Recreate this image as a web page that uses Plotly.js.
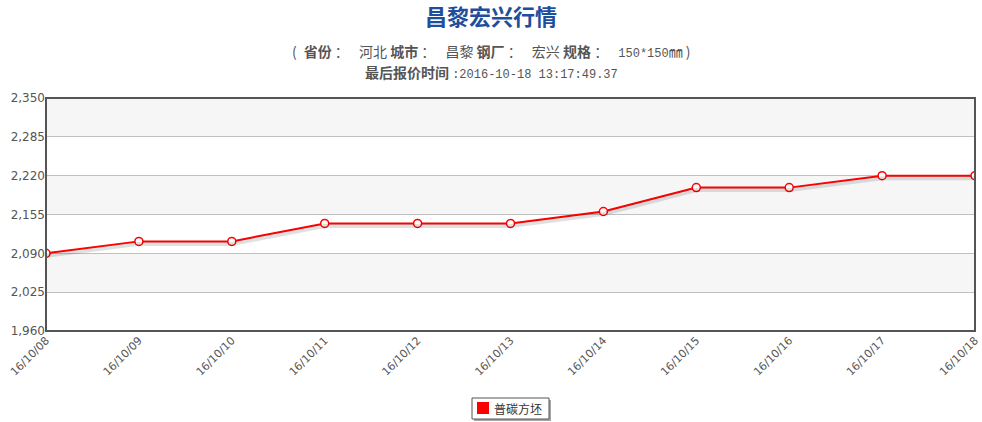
<!DOCTYPE html>
<html><head><meta charset="utf-8">
<script src="https://cdn.plot.ly/plotly-3.0.1.min.js"></script>
<style>body{margin:0;background:#fff}#c{width:982px;height:422px}</style>
</head><body><div id="c"></div>
<script>
const dates = ["16/10/08","16/10/09","16/10/10","16/10/11","16/10/12","16/10/13","16/10/14","16/10/15","16/10/16","16/10/17","16/10/18"];
const prices = [2090, 2110, 2110, 2140, 2140, 2140, 2160, 2200, 2200, 2220, 2220];
const seriesName = "普碳方坯";
const yTicks = [1960, 2025, 2090, 2155, 2220, 2285, 2350];
const titleText = "昌黎宏兴行情";
const mono = "font-family:'Liberation Mono',monospace;font-size:12px";
const subLine1 = "(&#8194;<b>省份</b> ：&#8194; 河北 <b>城市</b> ：&#8194; 昌黎 <b>钢厂</b> ：&#8194; 宏兴 <b>规格</b> ：&#8194; <span style=\"" + mono + "\">150*150</span>㎜ )";
const subLine2 = "<b>最后报价时间</b> <span style=\"" + mono + "\">:2016-10-18 13:17:49.37</span>";

const cjk = "'Noto Sans CJK SC', 'DejaVu Sans', sans-serif";
const W = 982, H = 422, L = 46, R = 7, T = 98, B = 91;
const pw = W - L - R, ph = H - T - B;
const px = v => (v - L) / pw, py = v => (H - B - v) / ph;
const centerShift = W / 2 - (L + pw / 2);

const shapes = [];
for (let i = 0; i < yTicks.length - 1; i++) {
  if (i % 2 === 1) {
    shapes.push({type:'rect', xref:'paper', yref:'y', x0:0, x1:1, y0:yTicks[i], y1:yTicks[i+1],
      fillcolor:'#f6f6f6', line:{width:0}, layer:'below'});
  }
}
shapes.push({type:'rect', xref:'paper', yref:'paper', x0:0, x1:1, y0:0, y1:1,
  line:{color:'#555555', width:2}, fillcolor:'rgba(0,0,0,0)'});
// legend box with shadow
shapes.push({type:'rect', xref:'paper', yref:'paper', x0:px(474), x1:px(551), y0:py(400), y1:py(421),
  line:{width:0}, fillcolor:'rgba(0,0,0,0.35)'});
shapes.push({type:'rect', xref:'paper', yref:'paper', x0:px(472), x1:px(549), y0:py(398), y1:py(419),
  line:{color:'#555555', width:1}, fillcolor:'#ffffff'});
shapes.push({type:'rect', xref:'paper', yref:'paper', x0:px(477), x1:px(489), y0:py(402), y1:py(414),
  line:{width:0}, fillcolor:'#ff0000'});

const yr = [yTicks[0], yTicks[yTicks.length-1]];
const unitPerPx = (yr[1]-yr[0]) / ph;
const traces = [
  {x: dates, y: prices, type:'scatter', mode:'lines', showlegend:false, xaxis:'x', yaxis:'y2',
   line:{color:'rgba(0,0,0,0.12)', width:4}, hoverinfo:'skip'},
  {x: dates, y: prices, type:'scatter', mode:'lines+markers', name: seriesName, showlegend:false,
   line:{color:'#ff0000', width:2},
   marker:{size:8, color:'#ffffff', line:{color:'#ff0000', width:1.5}}}
];

const layout = {
  width:W, height:H,
  margin:{l:L, r:R, t:T, b:B},
  paper_bgcolor:'#ffffff', plot_bgcolor:'#ffffff',
  showlegend:false,
  xaxis:{type:'category', range:[0, dates.length-1], tickangle:-45, showgrid:false, zeroline:false, automargin:false,
    ticks:'', tickfont:{family:"'DejaVu Sans', sans-serif", size:11, color:'#555555'}, showline:false},
  yaxis:{range:yr, tickvals:yTicks, ticktext:yTicks.map(v=>v.toLocaleString('en-US')), automargin:false,
    showgrid:true, gridcolor:'#c0c0c0', gridwidth:1, zeroline:false, ticks:'', showline:false,
    tickfont:{family:"'DejaVu Sans', sans-serif", size:12, color:'#555555'}},
  yaxis2:{overlaying:'y', range:[yr[0]+2.5*unitPerPx, yr[1]+2.5*unitPerPx], visible:false},
  shapes: shapes,
  annotations:[
    {text:'<b>'+titleText+'</b>', xref:'paper', yref:'paper', x:0.5, y:1, xanchor:'center', yanchor:'middle',
     xshift:centerShift, yshift:T-15, showarrow:false, font:{family:cjk, size:22, color:'#1f4e9c'}},
    {text:subLine1, xref:'paper', yref:'paper', x:0.5, y:1, xanchor:'center', yanchor:'middle',
     xshift:centerShift, yshift:T-51, showarrow:false, font:{family:cjk, size:14, color:'#555555'}},
    {text:subLine2, xref:'paper', yref:'paper', x:0.5, y:1, xanchor:'center', yanchor:'middle',
     xshift:centerShift, yshift:T-72, showarrow:false, font:{family:cjk, size:14, color:'#555555'}},
    {text:seriesName, xref:'paper', yref:'paper', x:px(492), y:py(408.5), xanchor:'left', yanchor:'middle',
     showarrow:false, font:{family:cjk, size:12, color:'#333333'}}
  ]
};
Plotly.newPlot('c', traces, layout, {displayModeBar:false, staticPlot:true});
</script></body></html>
